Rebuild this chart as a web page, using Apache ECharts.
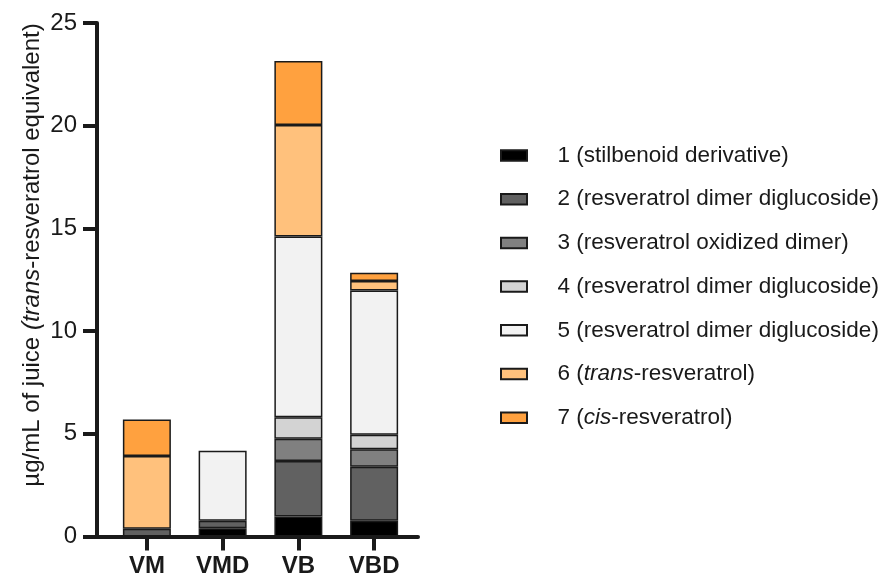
<!DOCTYPE html>
<html>
<head>
<meta charset="utf-8">
<script src="https://cdn.jsdelivr.net/npm/echarts@6/dist/echarts.min.js"></script>
<style>
  html, body { margin: 0; padding: 0; background: #fff; }
  #chart { width: 881px; height: 579px; }
</style>
</head>
<body>
<div id="chart"></div>
<script>
// Juice samples on the x axis
const categories = ['VM', 'VMD', 'VB', 'VBD'];

// Stilbenoid content per sample, µg/mL of juice (trans-resveratrol equivalent)
const compound1 = [0, 0.40, 0.97, 0.77];
const compound2 = [0.38, 0.37, 2.70, 2.63];
const compound3 = [0, 0, 1.09, 0.85];
const compound4 = [0, 0, 1.04, 0.70];
const compound5 = [0, 3.41, 8.81, 7.03];
const compound6 = [3.54, 0, 5.42, 0.46];
const compound7 = [1.78, 0, 3.12, 0.40];

const seriesNames = [
  '1 (stilbenoid derivative)',
  '2 (resveratrol dimer diglucoside)',
  '3 (resveratrol oxidized dimer)',
  '4 (resveratrol dimer diglucoside)',
  '5 (resveratrol dimer diglucoside)',
  '6 (trans-resveratrol)',
  '7 (cis-resveratrol)'
];
const seriesValues = [compound1, compound2, compound3, compound4, compound5, compound6, compound7];
const seriesColors = ['#000000', '#616161', '#808080', '#d3d3d3', '#f2f2f2', '#ffc17c', '#ffa13f'];

const yTicks = [0, 5, 10, 15, 20, 25];
const yMax = 25;

const FONT = "'Liberation Sans', Arial, sans-serif";
const INK = '#1a1a1a';

const chart = echarts.init(document.getElementById('chart'), null, { renderer: 'canvas' });

// Bars live in an inner grid (category axis); the outer grid carries the
// frame lines and the labelled y axis, which extend a little beyond the bars.
const series = seriesValues.map((vals, s) => ({
  name: seriesNames[s],
  type: 'bar',
  stack: 'total',
  xAxisIndex: 1,
  yAxisIndex: 1,
  barWidth: 48,
  itemStyle: { color: seriesColors[s], borderColor: INK, borderWidth: 1.5 },
  // empty components are left out so no zero-height outlines appear
  data: vals.map(v => (v > 0 ? v : '-'))
}));

const italicize = name => name.replace(/\b(trans|cis)\b/, '{i|$1}');

chart.setOption({
  animation: false,
  backgroundColor: '#ffffff',
  grid: [
    { left: 97, right: 463, top: 23, bottom: 42.5 },
    { left: 109, right: 469, top: 23, bottom: 42.5 }
  ],
  xAxis: [{
    type: 'value',
    gridIndex: 0,
    min: 0, max: 1,
    splitLine: { show: false },
    axisLine: { show: true, onZero: false, lineStyle: { color: INK, width: 4 } },
    axisTick: { show: false },
    axisLabel: { show: false }
  }, {
    type: 'category',
    gridIndex: 1,
    data: categories,
    boundaryGap: true,
    axisLine: { show: false },
    axisTick: { show: true, alignWithLabel: true, length: 14, lineStyle: { color: INK, width: 4 } },
    axisLabel: { margin: 18, fontFamily: FONT, fontSize: 24, fontWeight: 'bold', color: INK }
  }],
  yAxis: [{
    type: 'value',
    gridIndex: 0,
    min: 0,
    max: yMax,
    interval: 5,
    splitLine: { show: false },
    axisLine: { show: true, onZero: false, lineStyle: { color: INK, width: 4 } },
    axisTick: { show: true, length: 14, lineStyle: { color: INK, width: 4 } },
    axisLabel: {
      margin: 20,
      fontFamily: FONT, fontSize: 24, color: INK,
      formatter: v => (yTicks.indexOf(v) >= 0 ? String(v) : '')
    }
  }, {
    type: 'value',
    gridIndex: 1,
    min: 0,
    max: yMax,
    show: false
  }],
  legend: {
    orient: 'vertical',
    left: 495,
    top: 138.5,
    itemWidth: 26,
    itemHeight: 10.5,
    itemGap: 19.7,
    selectedMode: false,
    icon: 'rect',
    formatter: italicize,
    textStyle: {
      fontFamily: FONT, fontSize: 22.5, color: INK, lineHeight: 24, padding: [0, 0, 0, 25.5],
      rich: { i: { fontFamily: FONT, fontSize: 22.5, fontStyle: 'italic', color: INK, lineHeight: 24 } }
    },
    data: seriesNames
  },
  graphic: [{
    type: 'text',
    x: 32,
    y: 255,
    rotation: Math.PI / 2,
    style: {
      text: 'µg/mL of juice {i|(trans}-resveratrol equivalent)',
      fontFamily: FONT, fontSize: 24, fill: INK,
      align: 'center', verticalAlign: 'middle',
      rich: { i: { fontFamily: FONT, fontSize: 24, fontStyle: 'italic', fill: INK } }
    }
  }],
  series: series
});
</script>
</body>
</html>
